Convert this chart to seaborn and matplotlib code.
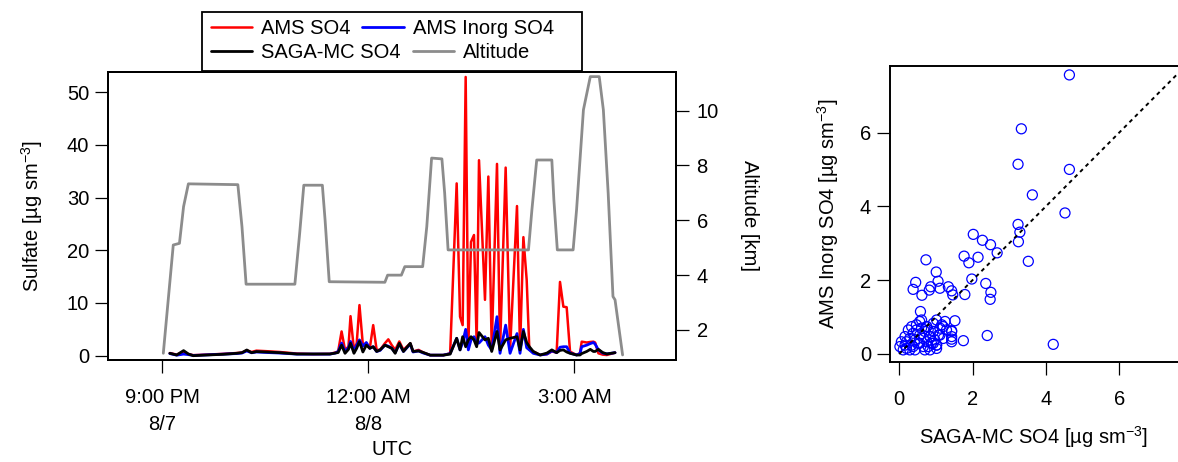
import matplotlib
matplotlib.use("Agg")
import matplotlib.pyplot as plt
from matplotlib.lines import Line2D
from matplotlib.patches import Rectangle
import numpy as np
import pandas as pd
import seaborn as sns

# flight time axis: hours after 21:00 UTC on 8/7
alt_hours = [0.015, 0.16, 0.25, 0.31, 0.38, 1.10, 1.16, 1.22, 1.93, 2.00, 2.06, 2.33,
             2.37, 2.43, 3.24, 3.28, 3.48, 3.53, 3.79, 3.85, 3.92, 4.07, 4.11, 4.16,
             5.33, 5.38, 5.45, 5.67, 5.70, 5.75, 5.98, 6.03, 6.13, 6.23, 6.36, 6.42,
             6.49, 6.56, 6.59, 6.70]
alt_km = [1.15, 5.10, 5.16, 6.50, 7.33, 7.30, 5.77, 3.67, 3.67, 5.53, 7.28, 7.28,
          6.00, 3.76, 3.74, 4.00, 4.00, 4.31, 4.31, 5.77, 8.27, 8.24, 7.00, 4.92,
          4.92, 6.38, 8.20, 8.20, 6.74, 4.92, 4.92, 6.38, 10.03, 11.24, 11.24, 10.03,
          7.00, 3.22, 3.10, 1.09]

so4_hours = [0.11, 0.21, 0.31, 0.38, 0.45, 0.65, 0.89, 1.08, 1.16, 1.23, 1.30, 1.37,
             1.52, 1.71, 1.96, 2.20, 2.44, 2.52,
             2.56, 2.61, 2.66, 2.71, 2.74, 2.79, 2.83, 2.87, 2.92, 2.97, 3.02, 3.07,
             3.12, 3.17, 3.24, 3.29, 3.34, 3.39, 3.45, 3.51, 3.61, 3.65, 3.73, 3.80,
             3.90, 4.09, 4.19,
             4.285, 4.334, 4.372, 4.416, 4.455, 4.494, 4.537, 4.576, 4.610, 4.697,
             4.746, 4.795, 4.872, 4.916, 4.998, 5.062, 5.163, 5.207, 5.256, 5.304,
             5.343, 5.40, 5.50, 5.60, 5.67, 5.74, 5.789, 5.838, 5.886, 5.935, 6.03,
             6.08, 6.105, 6.178, 6.23, 6.275, 6.30, 6.348, 6.41, 6.47, 6.59]
ams_so4 = [0.5, 0.2, 0.8, 0.3, 0.1, 0.2, 0.35, 0.5, 0.6, 1.0, 0.7, 0.95,
           0.85, 0.7, 0.4, 0.3, 0.35, 0.6,
           0.8, 4.6, 1.1, 1.7, 7.5, 1.1, 2.35, 9.6, 2.0, 2.35, 1.4, 5.8,
           1.1, 1.1, 2.35, 3.1, 2.0, 1.1, 2.7, 1.1, 2.35, 0.77, 1.1, 0.6,
           0.1, 0.1, 0.45,
           32.7, 7.4, 5.8, 52.9, 1.7, 21.6, 22.9, 2.35, 37.1, 10.6,
           34.0, 1.7, 36.4, 1.1, 35.7, 1.1, 28.4, 1.1, 22.5, 14.4,
           1.1, 0.8, 0.13, 0.3, 0.8, 0.6, 14.0, 9.3, 9.2, 0.77, 0.13,
           0.5, 2.66, 2.5, 2.6, 2.66, 2.5, 0.45, 0.2, 0.13, 0.57]
ams_inorg_so4 = [0.4, 0.1, 0.3, 0.2, 0.05, 0.15, 0.3, 0.4, 0.5, 0.9, 0.55, 0.7,
                 0.6, 0.5, 0.3, 0.3, 0.3, 0.5,
                 0.8, 2.4, 0.8, 1.5, 2.7, 0.9, 2.0, 3.0, 1.8, 2.5, 1.4, 1.7,
                 0.8, 1.0, 2.0, 1.8, 1.4, 0.6, 2.2, 0.8, 2.2, 0.7, 0.9, 0.5,
                 0.1, 0.1, 0.4,
                 3.3, 1.1, 2.5, 5.0, 1.1, 3.0, 3.6, 2.35, 2.4, 3.6,
                 2.0, 1.1, 7.4, 0.45, 5.8, 0.45, 4.2, 0.45, 5.0, 1.5,
                 1.1, 0.45, 0.13, 0.3, 0.9, 0.6, 1.6, 1.7, 1.7, 0.5, 0.13,
                 0.4, 1.7, 2.0, 2.3, 2.5, 2.2, 1.1, 0.5, 0.33, 0.57]
saga_so4 = [0.45, 0.13, 0.96, 0.32, 0.0, 0.13, 0.26, 0.45, 0.57, 1.08, 0.57, 0.77,
            0.7, 0.57, 0.32, 0.32, 0.32, 0.5,
            0.6, 2.0, 0.45, 1.2, 2.35, 0.45, 1.4, 2.7, 0.7, 2.0, 1.4, 1.7,
            0.8, 1.1, 2.0, 1.7, 1.4, 0.45, 2.35, 0.8, 2.35, 0.8, 0.9, 0.6,
            0.1, 0.1, 0.3,
            3.3, 1.1, 3.6, 1.7, 3.0, 3.6, 3.0, 1.7, 4.4, 3.0,
            3.3, 0.8, 4.6, 1.1, 3.0, 3.3, 3.6, 1.1, 4.6, 2.5,
            1.7, 0.8, 0.13, 0.5, 1.1, 0.57, 1.0, 1.1, 0.7, 0.45, 0.13,
            0.13, 0.4, 0.8, 1.2, 0.8, 0.8, 1.2, 0.6, 0.33, 0.57]

# 1-min matched pairs for the scatter plot
saga_x = [4.64, 3.33, 3.24, 4.64, 3.63, 4.52, 3.24, 3.29, 3.25, 3.52, 2.02, 2.27,
          2.49, 2.67, 1.77, 1.90, 2.15, 1.98, 2.36, 2.50, 2.48, 1.79, 0.73, 1.01,
          1.06, 0.45, 0.38, 0.62, 0.82, 0.86, 1.11, 1.34, 1.43, 1.46, 0.58, 1.52,
          2.40, 4.20, 1.75, 1.43, 1.43, 1.43, 1.20, 1.02, 1.11, 0.93, 1.02, 0.75,
          0.84,
          0.02, 0.11, 0.16, 0.20, 0.29, 0.34, 0.38, 0.43, 0.47, 0.52, 0.56, 0.61,
          0.66, 0.70, 0.75, 0.79, 0.84, 0.88, 0.93, 0.97, 1.02, 1.07, 1.11, 1.16,
          1.20, 1.29, 1.43, 1.43, 0.25, 0.34, 0.47, 0.56, 0.06, 0.20, 0.29, 0.38,
          0.66, 0.79, 0.16, 0.93, 1.25, 0.43, 0.56, 0.70, 0.84, 1.02, 0.75, 0.61]
ams_inorg_y = [7.56, 6.10, 5.14, 5.00, 4.31, 3.82, 3.51, 3.30, 3.04, 2.51, 3.24, 3.08,
               2.96, 2.74, 2.65, 2.47, 2.62, 2.03, 1.91, 1.67, 1.48, 1.61, 2.55, 2.22,
               1.97, 1.94, 1.75, 1.59, 1.73, 1.82, 1.78, 1.82, 1.71, 1.60, 1.15, 0.90,
               0.50, 0.26, 0.36, 0.63, 0.47, 0.33, 0.74, 0.92, 0.51, 0.29, 0.24, 0.74,
               0.47,
               0.20, 0.11, 0.24, 0.33, 0.42, 0.24, 0.56, 0.38, 0.65, 0.29, 0.51, 0.70,
               0.42, 0.61, 0.33, 0.65, 0.47, 0.29, 0.61, 0.38, 0.24, 0.51, 0.70, 0.79,
               0.42, 0.65, 0.61, 0.40, 0.65, 0.74, 0.79, 0.88, 0.33, 0.15, 0.11, 0.20,
               0.20, 0.20, 0.47, 0.83, 0.88, 0.11, 0.29, 0.11, 0.11, 0.15, 0.74, 0.92]
one_to_one = [0, 8]

time_ticks = ["2008-08-07 21:00", "2008-08-08 00:00", "2008-08-08 03:00"]
time_tick_labels = ["9:00 PM\n8/7", "12:00 AM\n8/8", "3:00 AM"]

start = pd.Timestamp("2008-08-07 21:00")
alt_df = pd.DataFrame({"time": start + pd.to_timedelta(alt_hours, unit="h"), "alt": alt_km})
so4_df = pd.DataFrame({"time": start + pd.to_timedelta(so4_hours, unit="h"),
                       "ams": ams_so4, "inorg": ams_inorg_so4, "saga": saga_so4})
sc_df = pd.DataFrame({"saga": saga_x, "inorg": ams_inorg_y})

sns.set_theme(style="ticks")
plt.rcParams["font.family"] = ["Liberation Sans", "DejaVu Sans"]
plt.rcParams["mathtext.default"] = "regular"
plt.rcParams["text.color"] = "black"
plt.rcParams["axes.labelcolor"] = "black"
FS = 14.5
plt.rcParams["font.size"] = FS

RED, BLUE, BLACK, GRAY = "#ff0000", "#0000ff", "#000000", "#8c8c8c"
tick_kw = dict(direction="out", length=9.5, width=0.9, labelsize=FS, colors="black")

fig = plt.figure(figsize=(11.78, 4.62), dpi=100)
ax = fig.add_axes([108 / 1178, 1 - 360 / 462, (675.7 - 108) / 1178, (360 - 71.7) / 462])
ax2 = ax.twinx()

sns.lineplot(data=so4_df, x="time", y="ams", ax=ax, color=RED, lw=1.8, legend=False)
sns.lineplot(data=so4_df, x="time", y="inorg", ax=ax, color=BLUE, lw=2.0, legend=False)
sns.lineplot(data=so4_df, x="time", y="saga", ax=ax, color=BLACK, lw=2.0, legend=False)
sns.lineplot(data=alt_df, x="time", y="alt", ax=ax2, color=GRAY, lw=2.0, legend=False)

ax.set_xlim(start + pd.Timedelta(hours=-0.79), start + pd.Timedelta(hours=7.473))
ax.set_ylim(-0.82, 53.9)
ax2.set_ylim(0.905, 11.42)
ax.set_yticks([0, 10, 20, 30, 40, 50])
ax2.set_yticks([2, 4, 6, 8, 10])
ax.set_xticks(pd.to_datetime(time_ticks))
ax.set_xticklabels(time_tick_labels)
for lbl in ax.get_xticklabels():
    lbl.set_linespacing(1.5)

ax.tick_params(axis="x", pad=11, **tick_kw)
ax.tick_params(axis="y", pad=4, **tick_kw)
ax2.tick_params(axis="y", pad=5.5, **tick_kw)
for a in (ax, ax2):
    for s in a.spines.values():
        s.set_visible(True)
        s.set_color("black")
        s.set_linewidth(1.4)

ax.set_xlabel("UTC", fontsize=FS, labelpad=4.5)
ax.set_ylabel("Sulfate [µg sm$^{-3}$]", fontsize=FS, labelpad=16)
ax2.set_ylabel("Altitude [km]", fontsize=FS, rotation=270, labelpad=29)

# legend: two rows inside one box, like the original layout
h_red = Line2D([], [], color=RED, lw=1.8)
h_blue = Line2D([], [], color=BLUE, lw=2.0)
h_black = Line2D([], [], color=BLACK, lw=2.0)
h_gray = Line2D([], [], color=GRAY, lw=2.0)
box = Rectangle((202 / 1178, 1 - 71 / 462), 380 / 1178, 59 / 462, transform=fig.transFigure,
                facecolor="white", edgecolor="black", lw=1.3, zorder=3)
fig.patches.append(box)
leg_kw = dict(ncol=2, loc="center left", frameon=False, borderpad=0, borderaxespad=0,
              handlelength=2.04, handletextpad=0.45, columnspacing=0.6, fontsize=FS)
leg1 = fig.legend([h_red, h_blue], ["AMS SO4", "AMS Inorg SO4"],
                  bbox_to_anchor=(210.7 / 1178, 1 - 29 / 462), **leg_kw)
leg2 = fig.legend([h_black, h_gray], ["SAGA-MC SO4", "Altitude"],
                  bbox_to_anchor=(210.7 / 1178, 1 - 53 / 462), **leg_kw)
leg1.set_zorder(5)
leg2.set_zorder(5)

# scatter panel
bx = fig.add_axes([890 / 1178, 1 - 361.7 / 462, 1 - 890 / 1178, (361.7 - 65.7) / 462])
sns.scatterplot(data=sc_df, x="saga", y="inorg", ax=bx, marker="o", s=52,
                facecolor="none", edgecolor=BLUE, linewidth=0.9, legend=False)
bx.plot(one_to_one, one_to_one, color="black", lw=1.4, ls=(0, (2, 2)))
bx.set_xlim(-0.25, 7.6)
bx.set_ylim(-0.21, 7.81)
bx.set_xticks([0, 2, 4, 6])
bx.set_yticks([0, 2, 4, 6])
bx.tick_params(axis="x", pad=11, **tick_kw)
bx.tick_params(axis="y", pad=4, **tick_kw)
for s in bx.spines.values():
    s.set_color("black")
    s.set_linewidth(1.4)
bx.spines["right"].set_visible(False)
bx.set_xlabel("SAGA-MC SO4 [µg sm$^{-3}$]", fontsize=FS, labelpad=11)
bx.set_ylabel("AMS Inorg SO4 [µg sm$^{-3}$]", fontsize=FS, labelpad=14)

fig.savefig("out.png", dpi=100)
